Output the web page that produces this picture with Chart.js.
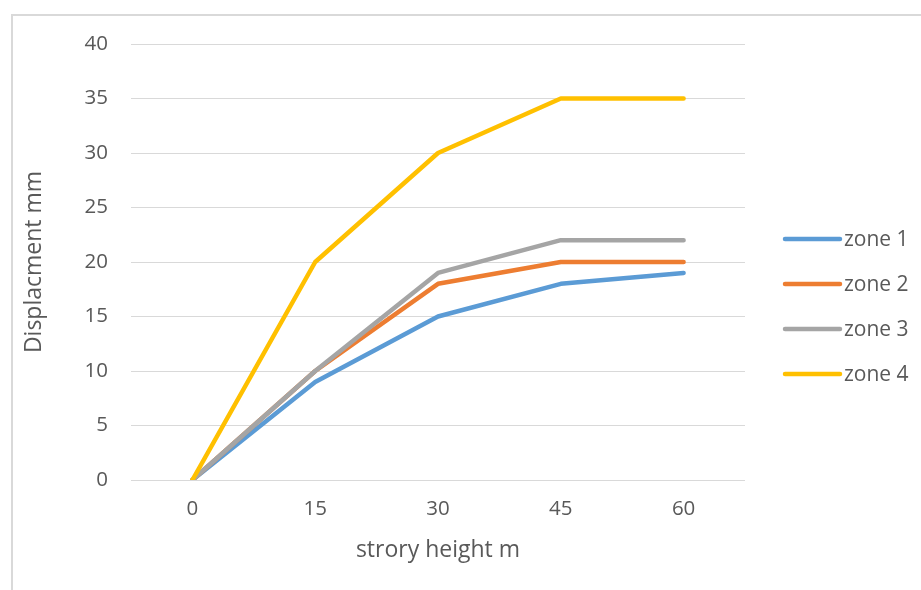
<!DOCTYPE html>
<html>
<head>
<meta charset="utf-8">
<script src="https://cdn.jsdelivr.net/npm/chart.js@4"></script>
<style>
html,body{margin:0;padding:0;background:#fff;width:921px;height:590px;overflow:hidden;}
#frame{position:absolute;left:11px;top:14px;width:950px;height:620px;border-left:2px solid #d9d9d9;border-top:2px solid #d9d9d9;}
#wrap{position:absolute;left:0;top:0;width:921px;height:590px;}
</style>
</head>
<body>
<div id="frame"></div>
<div id="wrap"><canvas id="c" width="921" height="590"></canvas></div>
<script>
const categories = ['0', '15', '30', '45', '60'];
const seriesNames = ['zone 1', 'zone 2', 'zone 3', 'zone 4'];
const zone1 = [0, 9, 15, 18, 19];
const zone2 = [0, 10, 18, 20, 20];
const zone3 = [0, 10, 19, 22, 22];
const zone4 = [0, 20, 30, 35, 35];
const colors = ['#5B9BD5', '#ED7D31', '#A5A5A5', '#FFC000'];
const xTitle = 'strory height m';
const yTitle = 'Displacment mm';

const FONT = '"Open Sans", sans-serif';
const TXT = '#595959';
const TICK_FS = 20.5;
const TITLE_FS = 23;
const LEG_FS = 21;

const allSeries = [zone1, zone2, zone3, zone4];
const datasets = allSeries.map((d, i) => ({
  label: seriesNames[i],
  data: d,
  borderColor: colors[i],
  backgroundColor: colors[i],
  borderWidth: 4.5,
  borderCapStyle: 'round',
  borderJoinStyle: 'round',
  pointRadius: 0,
  tension: 0,
  fill: false,
  order: allSeries.length - 1 - i
}));

const legendPlugin = {
  id: 'sideLegend',
  afterDraw(chart) {
    const ctx = chart.ctx;
    const x0 = 785, x1 = 840, tx = 844;
    const y0 = 239, gap = 45;
    ctx.save();
    chart.data.datasets.forEach((ds, i) => {
      const y = y0 + i * gap;
      ctx.strokeStyle = ds.borderColor;
      ctx.lineWidth = 4.5;
      ctx.lineCap = 'round';
      ctx.beginPath();
      ctx.moveTo(x0, y);
      ctx.lineTo(x1, y);
      ctx.stroke();
      ctx.fillStyle = TXT;
      ctx.font = LEG_FS + 'px ' + FONT;
      ctx.textBaseline = 'middle';
      ctx.textAlign = 'left';
      ctx.fillText(ds.label, tx, y + 1);
    });
    ctx.restore();
  }
};

new Chart(document.getElementById('c'), {
  type: 'line',
  data: { labels: categories, datasets },
  options: {
    responsive: false,
    animation: false,
    devicePixelRatio: 1,
    layout: { padding: { top: 44, right: 176, left: 0, bottom: 0 } },
    plugins: { legend: { display: false }, tooltip: { enabled: false } },
    scales: {
      x: {
        type: 'category',
        offset: true,
        grid: { display: false, drawTicks: false },
        border: { display: false },
        ticks: { color: TXT, font: { family: FONT, size: TICK_FS }, padding: 17, maxRotation: 0 },
        title: { display: true, text: xTitle, color: TXT, font: { family: FONT, size: TITLE_FS }, padding: { top: 0, bottom: 26 } },
        afterFit(s) { s.height = 110; }
      },
      y: {
        min: 0, max: 40,
        ticks: { stepSize: 5, color: TXT, font: { family: FONT, size: TICK_FS }, padding: 23 },
        grid: { color: '#d9d9d9', lineWidth: 1, drawTicks: false },
        border: { display: false },
        title: { display: true, text: yTitle, color: TXT, font: { family: FONT, size: TITLE_FS }, padding: { top: 21, bottom: 0 } },
        afterFit(s) { s.width = 131; }
      }
    }
  },
  plugins: [legendPlugin]
});
</script>
</body>
</html>
